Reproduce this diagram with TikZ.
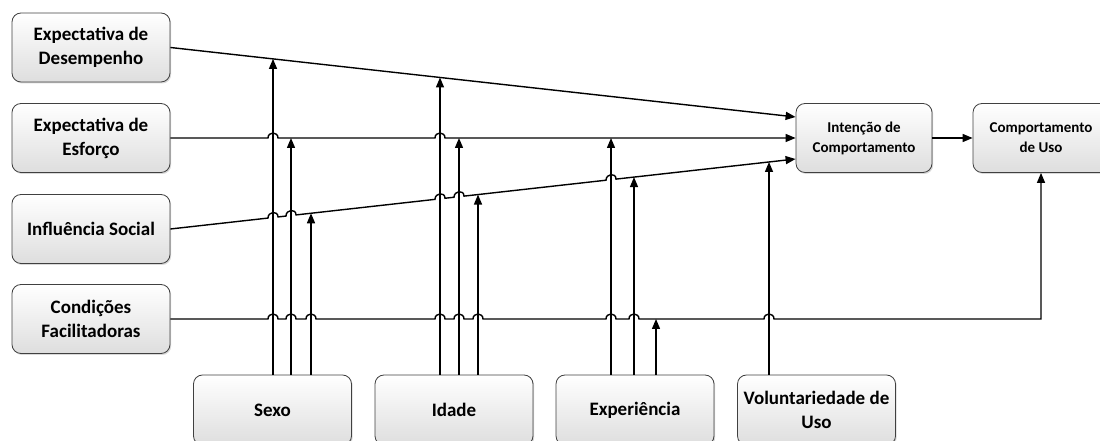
\documentclass[tikz,border=0pt]{standalone}
\usepackage{fontspec}
\setmainfont{Carlito}
\usetikzlibrary{arrows.meta,calc,shadows}

\tikzset{
  bloco/.style={draw=black!75,line width=0.8pt,rounded corners=9pt,
    top color=white,bottom color=black!13,
    drop shadow={shadow xshift=1.2pt,shadow yshift=-1.5pt,opacity=0.3},
    align=center,inner sep=2pt,minimum width=158pt,minimum height=69pt,
    font=\fontsize{19}{24}\selectfont\bfseries},
  blocop/.style={bloco,minimum width=136pt,font=\fontsize{15}{20}\selectfont\bfseries},
  seta/.style={-{Triangle[length=10pt,width=8pt]},line width=1.4pt},
  jump/.style={out=90,in=90,looseness=1.7}
}

\begin{document}
\begin{tikzpicture}[x=1pt,y=1pt]
      \useasboundingbox (0,0) rectangle (1100,441);
      \clip (0,0) rectangle (1100,441);
      \node[bloco] (des)  at (91,393.5) {Expectativa de\\Desempenho};
      \node[bloco] (esf)  at (91,303)   {Expectativa de\\Esforço};
      \node[bloco] (inf)  at (91,212)   {Influência Social};
      \node[bloco] (cond) at (91,122)   {Condições\\Facilitadoras};
      \node[blocop] (int) at (864,303)  {Intenção de\\Comportamento};
      \node[blocop] (uso) at (1041,303) {Comportamento\\de Uso};
      \node[bloco,minimum height=70pt] (sexo)  at (272.5,31) {Sexo};
      \node[bloco,minimum height=70pt] (idade) at (454,31)   {Idade};
      \node[bloco,minimum height=70pt] (exp)   at (635,31)   {Experiência};
      \node[bloco,minimum height=70pt] (vol)   at (816.5,31) {Voluntariedade de\\Uso};
      \coordinate (ides) at ($(int.west)+(0,21)$);
      \coordinate (iinf) at ($(int.west)+(0,-21)$);
      \path
        let
          \p1 = (des.east), \p2 = (ides),
          \p3 = (inf.east), \p4 = (iinf),
          \p5 = (esf.east), \p6 = (cond.east),
          \n{d} = {(\y2-\y1)/(\x2-\x1)},
          \n{i} = {(\y4-\y3)/(\x4-\x3)}
        in
          coordinate (d1) at (273,{\y1+(273-\x1)*(\n{d})})
          coordinate (d2) at (440,{\y1+(440-\x1)*(\n{d})})
          coordinate (e1) at (291,\y5)
          coordinate (e2) at (459,\y5)
          coordinate (e3) at (611,\y5)
          coordinate (i1) at (311,{\y3+(311-\x3)*(\n{i})})
          coordinate (i2) at (478,{\y3+(478-\x3)*(\n{i})})
          coordinate (i3) at (634,{\y3+(634-\x3)*(\n{i})})
          coordinate (i4) at (769,{\y3+(769-\x3)*(\n{i})})
          coordinate (c1) at (656,\y6);
      \draw[seta] (des.east) -- (ides);
      \draw[seta] let \p1 = (esf.east) in
        (esf.east) -- (268,\y1) to[jump] (278,\y1) -- (435,\y1) to[jump] (445,\y1) -- (int.west);
      \draw[seta] let \p1 = (inf.east), \p2 = (iinf), \n1 = {(\y2-\y1)/(\x2-\x1)} in
        (inf.east) -- (268,{\y1+(268-\x1)*(\n1)}) to[jump] (278,{\y1+(278-\x1)*(\n1)})
        -- (286,{\y1+(286-\x1)*(\n1)}) to[jump] (296,{\y1+(296-\x1)*(\n1)})
        -- (435,{\y1+(435-\x1)*(\n1)}) to[jump] (445,{\y1+(445-\x1)*(\n1)})
        -- (454,{\y1+(454-\x1)*(\n1)}) to[jump] (464,{\y1+(464-\x1)*(\n1)})
        -- (606,{\y1+(606-\x1)*(\n1)}) to[jump] (616,{\y1+(616-\x1)*(\n1)})
        -- (iinf);
      \draw[seta] let \p1 = (cond.east) in
        (cond.east) -- (268,\y1) to[jump] (278,\y1) -- (286,\y1) to[jump] (296,\y1)
        -- (306,\y1) to[jump] (316,\y1) -- (435,\y1) to[jump] (445,\y1)
        -- (454,\y1) to[jump] (464,\y1) -- (473,\y1) to[jump] (483,\y1)
        -- (606,\y1) to[jump] (616,\y1) -- (629,\y1) to[jump] (639,\y1)
        -- (764,\y1) to[jump] (774,\y1) -| (uso.south);
      \draw[seta] (int.east) -- (uso.west);
      \draw[seta] (sexo.north -| d1) -- (d1);
      \draw[seta] (sexo.north -| e1) -- (e1);
      \draw[seta] (sexo.north -| i1) -- (i1);
      \draw[seta] (idade.north -| d2) -- (d2);
      \draw[seta] (idade.north -| e2) -- (e2);
      \draw[seta] (idade.north -| i2) -- (i2);
      \draw[seta] (exp.north -| e3) -- (e3);
      \draw[seta] (exp.north -| i3) -- (i3);
      \draw[seta] (exp.north -| c1) -- (c1);
      \draw[seta] (vol.north -| i4) -- (i4);
\end{tikzpicture}
\end{document}
